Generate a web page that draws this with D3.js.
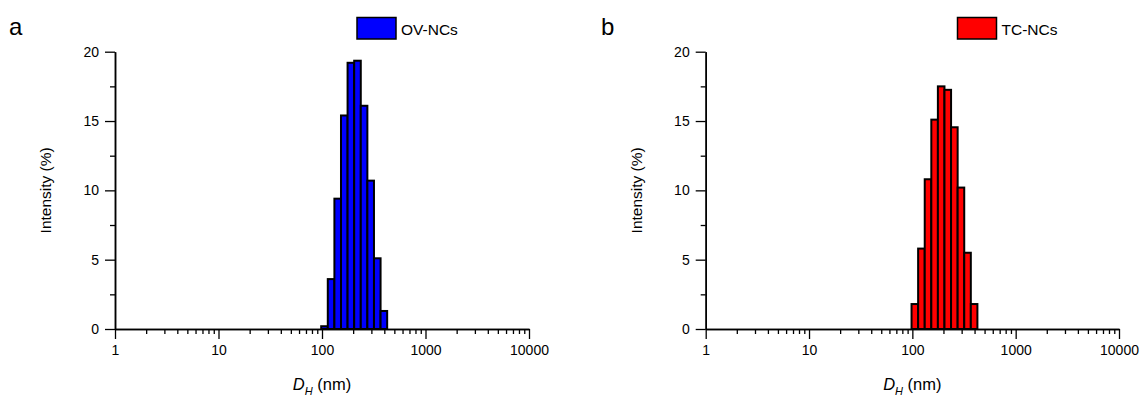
<!DOCTYPE html>
<html>
<head>
<meta charset="utf-8">
<script src="https://cdn.jsdelivr.net/npm/d3@7"></script>
<style>
  html, body { margin: 0; padding: 0; background: #fff; }
  svg { display: block; }
  text { font-family: "Liberation Sans", Arial, sans-serif; fill: #000; }
</style>
</head>
<body>
<svg id="chart" width="1142" height="396"></svg>
<script>
// ---- data ----
const sizes = [105.7, 122.4, 141.8, 164.2, 190.1, 220.2, 255.0, 295.3, 342.0, 396.1]; // nm (bin centres)
const ovIntensity = [0.2, 3.6, 9.4, 15.4, 19.2, 19.35, 16.1, 10.7, 5.1, 1.3];
const tcIntensity = [1.8, 5.8, 10.8, 15.1, 17.5, 17.25, 14.55, 10.2, 5.5, 1.8];
const xTickValues = [1, 10, 100, 1000, 10000];
const xTickLabels = ["1", "10", "100", "1000", "10000"];
const yTickValues = [0, 5, 10, 15, 20];
const yTickLabels = ["0", "5", "10", "15", "20"];
const panelLetters = ["a", "b"];
const seriesNames = ["OV-NCs", "TC-NCs"];
const seriesColors = ["#0000ff", "#ff0000"];

const svg = d3.select("#chart");
const panels = [
  { left: 115, right: 529, values: ovIntensity, letter: panelLetters[0], name: seriesNames[0], color: seriesColors[0], letterX: 9, legendX: 357 },
  { left: 705.7, right: 1119, values: tcIntensity, letter: panelLetters[1], name: seriesNames[1], color: seriesColors[1], letterX: 601, legendX: 957.5 }
];
const yTop = 51.7, yBottom = 329;

// log bin half width (ratio) from adjacent sizes
const halfRatio = Math.sqrt(sizes[1] / sizes[0]);

panels.forEach(p => {
  const g = svg.append("g");
  const x = d3.scaleLog().domain([1, 10000]).range([p.left, p.right]);
  const y = d3.scaleLinear().domain([0, 20]).range([yBottom, yTop]);

  // bars
  g.append("g").selectAll("rect").data(sizes).join("rect")
    .attr("x", (d) => x(d / halfRatio))
    .attr("width", (d) => x(d * halfRatio) - x(d / halfRatio))
    .attr("y", (d, i) => y(p.values[i]))
    .attr("height", (d, i) => y(0) - y(p.values[i]))
    .attr("fill", p.color)
    .attr("stroke", "#000")
    .attr("stroke-width", 2);

  // x axis: minor ticks
  const minor = [];
  for (let dec = 1; dec < 10000; dec *= 10) for (let k = 2; k <= 9; k++) minor.push(dec * k);
  const xAxisMajor = d3.axisBottom(x).tickValues(xTickValues).tickFormat((d, i) => xTickLabels[i]).tickSizeInner(10).tickSizeOuter(0).tickPadding(6);
  const xAxisMinor = d3.axisBottom(x).tickValues(minor).tickFormat("").tickSizeInner(5).tickSizeOuter(0);
  const gxm = g.append("g").attr("transform", `translate(0,${yBottom})`).call(xAxisMinor);
  const gx = g.append("g").attr("transform", `translate(0,${yBottom})`).call(xAxisMajor);
  [gx, gxm].forEach(a => {
    a.select(".domain").attr("stroke", "#000").attr("stroke-width", 1.5);
    a.selectAll(".tick line").attr("stroke", "#000").attr("stroke-width", 1.3);
  });
  gx.selectAll(".tick text").attr("font-size", 14).attr("font-family", "Liberation Sans, Arial, sans-serif");

  // y axis
  const yMinor = [2.5, 7.5, 12.5, 17.5];
  const yAxisMajor = d3.axisLeft(y).tickValues(yTickValues).tickFormat((d, i) => yTickLabels[i]).tickSizeInner(10).tickSizeOuter(0).tickPadding(6);
  const yAxisMinor = d3.axisLeft(y).tickValues(yMinor).tickFormat("").tickSizeInner(5).tickSizeOuter(0);
  const gym = g.append("g").attr("transform", `translate(${p.left},0)`).call(yAxisMinor);
  const gy = g.append("g").attr("transform", `translate(${p.left},0)`).call(yAxisMajor);
  [gy, gym].forEach(a => {
    a.select(".domain").attr("stroke", "#000").attr("stroke-width", 1.5);
    a.selectAll(".tick line").attr("stroke", "#000").attr("stroke-width", 1.3);
  });
  gy.selectAll(".tick text").attr("font-size", 14).attr("font-family", "Liberation Sans, Arial, sans-serif");

  // axis titles
  const xt = g.append("text")
    .attr("x", (p.left + p.right) / 2)
    .attr("y", 390)
    .attr("text-anchor", "middle")
    .attr("font-size", 16.5);
  xt.append("tspan").attr("font-style", "italic").text("D");
  xt.append("tspan").attr("font-style", "italic").attr("font-size", 11).attr("dy", 5).text("H");
  xt.append("tspan").attr("dy", -5).text(" (nm)");

  g.append("text")
    .attr("transform", `translate(${p.left - 64},${(yTop + yBottom) / 2}) rotate(-90)`)
    .attr("text-anchor", "middle")
    .attr("font-size", 15.5)
    .text("Intensity (%)");

  // panel letter
  g.append("text").attr("x", p.letterX).attr("y", 35).attr("font-size", 24).text(p.letter);

  // legend
  g.append("rect").attr("x", p.legendX).attr("y", 17.5).attr("width", 39).attr("height", 21.5)
    .attr("fill", p.color).attr("stroke", "#000").attr("stroke-width", 1.5);
  g.append("text").attr("x", p.legendX + 44).attr("y", 35).attr("font-size", 15.5).text(p.name);
});
</script>
</body>
</html>
